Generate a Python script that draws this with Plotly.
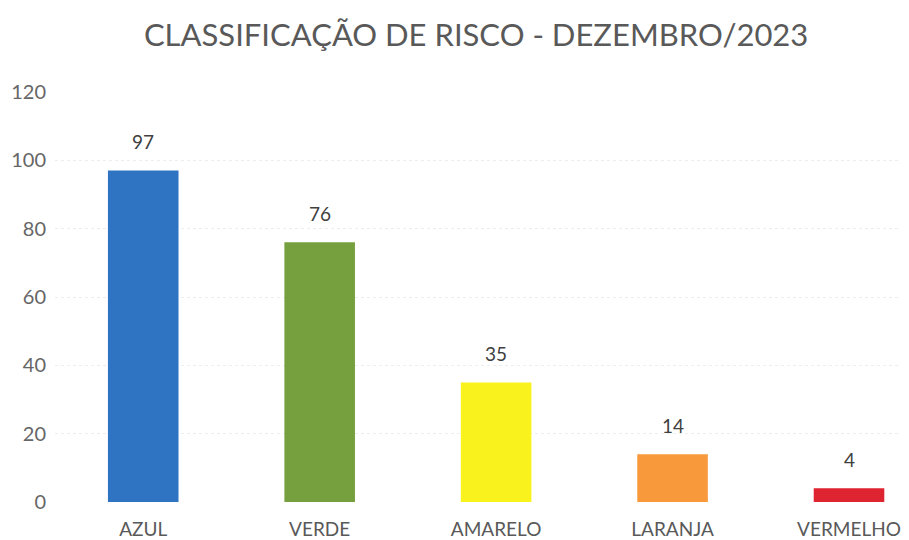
import plotly.graph_objects as go

categories = ["AZUL", "VERDE", "AMARELO", "LARANJA", "VERMELHO"]
values = [97, 76, 35, 14, 4]
colors = ["#2E74C2", "#76A03E", "#FAF21C", "#F89A3C", "#DE2430"]
y_ticks = [0, 20, 40, 60, 80, 100, 120]

fig = go.Figure(go.Bar(
    x=categories, y=values, marker_color=colors, marker_line_width=0,
    width=0.4, cliponaxis=False, hoverinfo="x+y",
))

for c, v in zip(categories, values):
    fig.add_annotation(x=c, y=v, text=str(v), showarrow=False, yanchor="middle",
                       yshift=29, font=dict(size=19, color="#404040", family="Lato"))

# page body has an 8px offset; margins compensate for it
fig.update_layout(
    width=909, height=540,
    paper_bgcolor="white", plot_bgcolor="white",
    margin=dict(l=47, r=8, t=84, b=46),
    title=dict(text="CLASSIFICAÇÃO DE RISCO - DEZEMBRO/2023", x=0.515, xanchor="center",
               y=0.95, yanchor="middle",
               font=dict(size=31, color="#595959", family="Lato")),
    font=dict(family="Lato", color="#595959", size=19),
    showlegend=False,
    bargap=0.6,
)
fig.update_xaxes(range=[-0.5, 4.34], showgrid=False, showline=False,
                 ticks="outside", ticklen=10, tickcolor="rgba(0,0,0,0)",
                 tickfont=dict(size=19, color="#595959"), automargin=False)
fig.update_yaxes(range=[0, 120], tickvals=y_ticks, showgrid=True,
                 gridcolor="#EDEDED", gridwidth=1, griddash="dot", zeroline=False,
                 showline=False, ticklabelstandoff=8, automargin=False,
                 tickfont=dict(size=20, color="#666666"))

fig.write_html("out.html")
